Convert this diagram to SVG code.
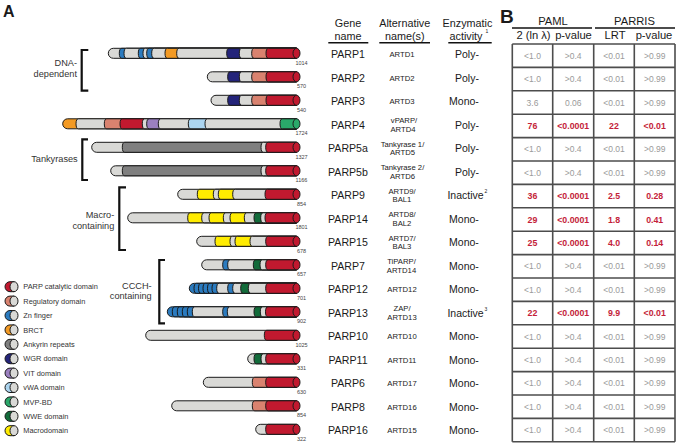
<svg xmlns="http://www.w3.org/2000/svg" width="679" height="445" viewBox="0 0 679 445">
<style>
text{font-family:"Liberation Sans",Arial,sans-serif;fill:#1a1a1a}
.bar path,.bar ellipse,.leg path,.leg ellipse{stroke:#1a1a1a;stroke-width:1}
.g{fill:#d9d9d6}.r{fill:#c1192f}.s{fill:#d9826f}.z{fill:#2b7bbf}.o{fill:#f39a24}.k{fill:#7f7f7f}.w{fill:#24247a}.v{fill:#9b80c0}.l{fill:#acd5f0}.m{fill:#2aa86a}.e{fill:#126b3a}.y{fill:#ffec00}
.len{font-size:5.5px;fill:#444;text-anchor:middle}
.leg text{font-size:7.4px;fill:#333}
.brk{fill:none;stroke:#111;stroke-width:2.2}
.bl{font-size:9.2px;fill:#333;text-anchor:end}
.hd{font-size:10.8px;text-anchor:middle}
.ul{stroke:#111;stroke-width:1.5}
.gn{font-size:10.6px;text-anchor:middle}
.an{font-size:7.7px;text-anchor:middle}
.ea{font-size:10.5px;text-anchor:middle}
.sup{font-size:5px}
.gc{font-size:8.5px;fill:#9a9a9a;text-anchor:middle}
.rc{font-size:8.8px;fill:#c41e3a;font-weight:bold;text-anchor:middle}
.bh{font-size:11.2px;text-anchor:middle}
.grid{fill:none;stroke:#4d4d4d;stroke-width:1.6}
</style>

<text x="3" y="17" style="font-size:16px;font-weight:bold">A</text>
<text x="500" y="23" style="font-size:19px;font-weight:bold">B</text>

<g id="connectors">
<path class="brk" d="M88.3,50H81.7V90.7H88.3"/>
<path class="brk" d="M88,139.3H82.3V180H88"/>
<path class="brk" d="M126,187.3H119.3V250H126"/>
<path class="brk" d="M165,260H159.3V323.3H165"/>
</g>
<g id="group-labels">
<text class="bl" x="77" y="66">DNA-</text>
<text class="bl" x="77" y="77">dependent</text>
<text class="bl" x="77.7" y="161.5">Tankyrases</text>
<text class="bl" x="114.3" y="218">Macro-</text>
<text class="bl" x="114.3" y="228.5">containing</text>
<text class="bl" x="151.7" y="288.5">CCCH-</text>
<text class="bl" x="151.7" y="299">containing</text>
</g>

<g id="PARP1" class="bar" transform="translate(0,53.3)">
<path class="g" d="M113.3,-5H296.5V5H113.3A5 5 0 0 1 113.3,-5Z"/>
<path class="z" d="M121.8,-5H296.5V5H121.8A2.5 5 0 0 1 121.8,-5Z"/>
<path class="g" d="M126.5,-5H296.5V5H126.5A2.5 5 0 0 1 126.5,-5Z"/>
<path class="z" d="M140.8,-5H296.5V5H140.8A2.5 5 0 0 1 140.8,-5Z"/>
<path class="g" d="M145.5,-5H296.5V5H145.5A2.5 5 0 0 1 145.5,-5Z"/>
<path class="z" d="M149.2,-5H296.5V5H149.2A2.5 5 0 0 1 149.2,-5Z"/>
<path class="g" d="M154.2,-5H296.5V5H154.2A2.5 5 0 0 1 154.2,-5Z"/>
<path class="o" d="M167.5,-5H296.5V5H167.5A2.5 5 0 0 1 167.5,-5Z"/>
<path class="g" d="M179.2,-5H296.5V5H179.2A2.5 5 0 0 1 179.2,-5Z"/>
<path class="w" d="M229.2,-5H296.5V5H229.2A2.5 5 0 0 1 229.2,-5Z"/>
<path class="g" d="M241.8,-5H296.5V5H241.8A2.5 5 0 0 1 241.8,-5Z"/>
<path class="s" d="M254.2,-5H296.5V5H254.2A2.5 5 0 0 1 254.2,-5Z"/>
<path class="r" d="M268.5,-5H296.5V5H268.5A2.5 5 0 0 1 268.5,-5Z"/>
<ellipse class="r" cx="296.5" cy="0" rx="3.5" ry="5"/>
<text class="len" x="301.5" y="11.5">1014</text>
</g>
<g id="PARP2" class="bar" transform="translate(0,76.8)">
<path class="g" d="M212.3,-5H296.5V5H212.3A5 5 0 0 1 212.3,-5Z"/>
<path class="w" d="M230.2,-5H296.5V5H230.2A2.5 5 0 0 1 230.2,-5Z"/>
<path class="g" d="M241.8,-5H296.5V5H241.8A2.5 5 0 0 1 241.8,-5Z"/>
<path class="s" d="M254.2,-5H296.5V5H254.2A2.5 5 0 0 1 254.2,-5Z"/>
<path class="r" d="M268.5,-5H296.5V5H268.5A2.5 5 0 0 1 268.5,-5Z"/>
<ellipse class="r" cx="296.5" cy="0" rx="3.5" ry="5"/>
<text class="len" x="301.5" y="11.5">570</text>
</g>
<g id="PARP3" class="bar" transform="translate(0,100.3)">
<path class="g" d="M216,-5H296.5V5H216A5 5 0 0 1 216,-5Z"/>
<path class="w" d="M230.2,-5H296.5V5H230.2A2.5 5 0 0 1 230.2,-5Z"/>
<path class="g" d="M241.8,-5H296.5V5H241.8A2.5 5 0 0 1 241.8,-5Z"/>
<path class="s" d="M254.2,-5H296.5V5H254.2A2.5 5 0 0 1 254.2,-5Z"/>
<path class="r" d="M268.5,-5H296.5V5H268.5A2.5 5 0 0 1 268.5,-5Z"/>
<ellipse class="r" cx="296.5" cy="0" rx="3.5" ry="5"/>
<text class="len" x="301.5" y="11.5">540</text>
</g>
<g id="PARP4" class="bar" transform="translate(0,123.8)">
<path class="o" d="M67.7,-5H296.5V5H67.7A5 5 0 0 1 67.7,-5Z"/>
<path class="g" d="M78.5,-5H296.5V5H78.5A2.5 5 0 0 1 78.5,-5Z"/>
<path class="s" d="M106.8,-5H296.5V5H106.8A2.5 5 0 0 1 106.8,-5Z"/>
<path class="r" d="M122.5,-5H296.5V5H122.5A2.5 5 0 0 1 122.5,-5Z"/>
<path class="g" d="M144.8,-5H296.5V5H144.8A2.5 5 0 0 1 144.8,-5Z"/>
<path class="v" d="M149.2,-5H296.5V5H149.2A2.5 5 0 0 1 149.2,-5Z"/>
<path class="g" d="M160.8,-5H296.5V5H160.8A2.5 5 0 0 1 160.8,-5Z"/>
<path class="l" d="M190.8,-5H296.5V5H190.8A2.5 5 0 0 1 190.8,-5Z"/>
<path class="g" d="M207.5,-5H296.5V5H207.5A2.5 5 0 0 1 207.5,-5Z"/>
<path class="m" d="M282.5,-5H296.5V5H282.5A2.5 5 0 0 1 282.5,-5Z"/>
<ellipse class="m" cx="296.5" cy="0" rx="3.5" ry="5"/>
<text class="len" x="301.5" y="11.5">1724</text>
</g>
<g id="PARP5a" class="bar" transform="translate(0,147.3)">
<path class="g" d="M96.7,-5H296.5V5H96.7A5 5 0 0 1 96.7,-5Z"/>
<path class="k" d="M124.8,-5H296.5V5H124.8A2.5 5 0 0 1 124.8,-5Z"/>
<path class="g" d="M263.5,-5H296.5V5H263.5A2.5 5 0 0 1 263.5,-5Z"/>
<path class="r" d="M268.2,-5H296.5V5H268.2A2.5 5 0 0 1 268.2,-5Z"/>
<ellipse class="r" cx="296.5" cy="0" rx="3.5" ry="5"/>
<text class="len" x="301.5" y="11.5">1327</text>
</g>
<g id="PARP5b" class="bar" transform="translate(0,170.8)">
<path class="g" d="M115.7,-5H296.5V5H115.7A5 5 0 0 1 115.7,-5Z"/>
<path class="k" d="M124.8,-5H296.5V5H124.8A2.5 5 0 0 1 124.8,-5Z"/>
<path class="g" d="M263.5,-5H296.5V5H263.5A2.5 5 0 0 1 263.5,-5Z"/>
<path class="r" d="M268.2,-5H296.5V5H268.2A2.5 5 0 0 1 268.2,-5Z"/>
<ellipse class="r" cx="296.5" cy="0" rx="3.5" ry="5"/>
<text class="len" x="301.5" y="11.5">1166</text>
</g>
<g id="PARP9" class="bar" transform="translate(0,194.3)">
<path class="g" d="M182.7,-5H296.5V5H182.7A5 5 0 0 1 182.7,-5Z"/>
<path class="y" d="M199.8,-5H296.5V5H199.8A2.5 5 0 0 1 199.8,-5Z"/>
<path class="g" d="M215.8,-5H296.5V5H215.8A2.5 5 0 0 1 215.8,-5Z"/>
<path class="y" d="M220.8,-5H296.5V5H220.8A2.5 5 0 0 1 220.8,-5Z"/>
<path class="g" d="M235.2,-5H296.5V5H235.2A2.5 5 0 0 1 235.2,-5Z"/>
<path class="r" d="M267.5,-5H296.5V5H267.5A2.5 5 0 0 1 267.5,-5Z"/>
<ellipse class="r" cx="296.5" cy="0" rx="3.5" ry="5"/>
<text class="len" x="301.5" y="11.5">854</text>
</g>
<g id="PARP14" class="bar" transform="translate(0,217.8)">
<path class="g" d="M132.7,-5H296.5V5H132.7A5 5 0 0 1 132.7,-5Z"/>
<path class="y" d="M190.2,-5H296.5V5H190.2A2.5 5 0 0 1 190.2,-5Z"/>
<path class="g" d="M204.2,-5H296.5V5H204.2A2.5 5 0 0 1 204.2,-5Z"/>
<path class="y" d="M211.5,-5H296.5V5H211.5A2.5 5 0 0 1 211.5,-5Z"/>
<path class="g" d="M225.8,-5H296.5V5H225.8A2.5 5 0 0 1 225.8,-5Z"/>
<path class="y" d="M232.5,-5H296.5V5H232.5A2.5 5 0 0 1 232.5,-5Z"/>
<path class="g" d="M246.8,-5H296.5V5H246.8A2.5 5 0 0 1 246.8,-5Z"/>
<path class="e" d="M256.5,-5H296.5V5H256.5A2.5 5 0 0 1 256.5,-5Z"/>
<path class="g" d="M263.2,-5H296.5V5H263.2A2.5 5 0 0 1 263.2,-5Z"/>
<path class="r" d="M267.5,-5H296.5V5H267.5A2.5 5 0 0 1 267.5,-5Z"/>
<ellipse class="r" cx="296.5" cy="0" rx="3.5" ry="5"/>
<text class="len" x="301.5" y="11.5">1801</text>
</g>
<g id="PARP15" class="bar" transform="translate(0,241.3)">
<path class="g" d="M201.7,-5H296.5V5H201.7A5 5 0 0 1 201.7,-5Z"/>
<path class="y" d="M217.5,-5H296.5V5H217.5A2.5 5 0 0 1 217.5,-5Z"/>
<path class="g" d="M232.5,-5H296.5V5H232.5A2.5 5 0 0 1 232.5,-5Z"/>
<path class="y" d="M237.5,-5H296.5V5H237.5A2.5 5 0 0 1 237.5,-5Z"/>
<path class="g" d="M252.5,-5H296.5V5H252.5A2.5 5 0 0 1 252.5,-5Z"/>
<path class="r" d="M268.2,-5H296.5V5H268.2A2.5 5 0 0 1 268.2,-5Z"/>
<ellipse class="r" cx="296.5" cy="0" rx="3.5" ry="5"/>
<text class="len" x="301.5" y="11.5">678</text>
</g>
<g id="PARP7" class="bar" transform="translate(0,264.8)">
<path class="g" d="M206.7,-5H296.5V5H206.7A5 5 0 0 1 206.7,-5Z"/>
<path class="z" d="M225.2,-5H296.5V5H225.2A2.5 5 0 0 1 225.2,-5Z"/>
<path class="g" d="M230.2,-5H296.5V5H230.2A2.5 5 0 0 1 230.2,-5Z"/>
<path class="e" d="M255.8,-5H296.5V5H255.8A2.5 5 0 0 1 255.8,-5Z"/>
<path class="g" d="M262.5,-5H296.5V5H262.5A2.5 5 0 0 1 262.5,-5Z"/>
<path class="r" d="M268.2,-5H296.5V5H268.2A2.5 5 0 0 1 268.2,-5Z"/>
<ellipse class="r" cx="296.5" cy="0" rx="3.5" ry="5"/>
<text class="len" x="301.5" y="11.5">657</text>
</g>
<g id="PARP12" class="bar" transform="translate(0,288.3)">
<path class="z" d="M194.3,-5H296.5V5H194.3A5 5 0 0 1 194.3,-5Z"/>
<path class="z" d="M196.5,-5H296.5V5H196.5A2.5 5 0 0 1 196.5,-5Z"/>
<path class="z" d="M201,-5H296.5V5H201A2.5 5 0 0 1 201,-5Z"/>
<path class="z" d="M205.5,-5H296.5V5H205.5A2.5 5 0 0 1 205.5,-5Z"/>
<path class="z" d="M210,-5H296.5V5H210A2.5 5 0 0 1 210,-5Z"/>
<path class="z" d="M214.5,-5H296.5V5H214.5A2.5 5 0 0 1 214.5,-5Z"/>
<path class="g" d="M219.2,-5H296.5V5H219.2A2.5 5 0 0 1 219.2,-5Z"/>
<path class="z" d="M230.2,-5H296.5V5H230.2A2.5 5 0 0 1 230.2,-5Z"/>
<path class="g" d="M235.2,-5H296.5V5H235.2A2.5 5 0 0 1 235.2,-5Z"/>
<path class="e" d="M243.2,-5H296.5V5H243.2A2.5 5 0 0 1 243.2,-5Z"/>
<path class="g" d="M250.8,-5H296.5V5H250.8A2.5 5 0 0 1 250.8,-5Z"/>
<path class="r" d="M268.2,-5H296.5V5H268.2A2.5 5 0 0 1 268.2,-5Z"/>
<ellipse class="r" cx="296.5" cy="0" rx="3.5" ry="5"/>
<text class="len" x="301.5" y="11.5">701</text>
</g>
<g id="PARP13" class="bar" transform="translate(0,311.8)">
<path class="z" d="M172.3,-5H296.5V5H172.3A5 5 0 0 1 172.3,-5Z"/>
<path class="z" d="M174.8,-5H296.5V5H174.8A2.5 5 0 0 1 174.8,-5Z"/>
<path class="z" d="M179.8,-5H296.5V5H179.8A2.5 5 0 0 1 179.8,-5Z"/>
<path class="z" d="M184.8,-5H296.5V5H184.8A2.5 5 0 0 1 184.8,-5Z"/>
<path class="z" d="M189.8,-5H296.5V5H189.8A2.5 5 0 0 1 189.8,-5Z"/>
<path class="g" d="M194.8,-5H296.5V5H194.8A2.5 5 0 0 1 194.8,-5Z"/>
<path class="z" d="M225.2,-5H296.5V5H225.2A2.5 5 0 0 1 225.2,-5Z"/>
<path class="g" d="M229.8,-5H296.5V5H229.8A2.5 5 0 0 1 229.8,-5Z"/>
<path class="e" d="M256.5,-5H296.5V5H256.5A2.5 5 0 0 1 256.5,-5Z"/>
<path class="g" d="M262.8,-5H296.5V5H262.8A2.5 5 0 0 1 262.8,-5Z"/>
<path class="r" d="M268,-5H296.5V5H268A2.5 5 0 0 1 268,-5Z"/>
<ellipse class="r" cx="296.5" cy="0" rx="3.5" ry="5"/>
<text class="len" x="301.5" y="11.5">902</text>
</g>
<g id="PARP10" class="bar" transform="translate(0,335.3)">
<path class="g" d="M150.7,-5H296.5V5H150.7A5 5 0 0 1 150.7,-5Z"/>
<path class="r" d="M266.8,-5H296.5V5H266.8A2.5 5 0 0 1 266.8,-5Z"/>
<ellipse class="r" cx="296.5" cy="0" rx="3.5" ry="5"/>
<text class="len" x="301.5" y="11.5">1025</text>
</g>
<g id="PARP11" class="bar" transform="translate(0,358.8)">
<path class="g" d="M252.7,-5H296.5V5H252.7A5 5 0 0 1 252.7,-5Z"/>
<path class="e" d="M256.5,-5H296.5V5H256.5A2.5 5 0 0 1 256.5,-5Z"/>
<path class="g" d="M263.5,-5H296.5V5H263.5A2.5 5 0 0 1 263.5,-5Z"/>
<path class="r" d="M268.2,-5H296.5V5H268.2A2.5 5 0 0 1 268.2,-5Z"/>
<ellipse class="r" cx="296.5" cy="0" rx="3.5" ry="5"/>
<text class="len" x="301.5" y="11.5">331</text>
</g>
<g id="PARP6" class="bar" transform="translate(0,382.3)">
<path class="g" d="M208.3,-5H296.5V5H208.3A5 5 0 0 1 208.3,-5Z"/>
<path class="s" d="M254.8,-5H296.5V5H254.8A2.5 5 0 0 1 254.8,-5Z"/>
<path class="r" d="M268.2,-5H296.5V5H268.2A2.5 5 0 0 1 268.2,-5Z"/>
<ellipse class="r" cx="296.5" cy="0" rx="3.5" ry="5"/>
<text class="len" x="301.5" y="11.5">630</text>
</g>
<g id="PARP8" class="bar" transform="translate(0,405.8)">
<path class="g" d="M176.7,-5H296.5V5H176.7A5 5 0 0 1 176.7,-5Z"/>
<path class="s" d="M254.8,-5H296.5V5H254.8A2.5 5 0 0 1 254.8,-5Z"/>
<path class="r" d="M268.2,-5H296.5V5H268.2A2.5 5 0 0 1 268.2,-5Z"/>
<ellipse class="r" cx="296.5" cy="0" rx="3.5" ry="5"/>
<text class="len" x="301.5" y="11.5">854</text>
</g>
<g id="PARP16" class="bar" transform="translate(0,429.3)">
<path class="g" d="M260.7,-5H296.5V5H260.7A5 5 0 0 1 260.7,-5Z"/>
<path class="r" d="M268.2,-5H296.5V5H268.2A2.5 5 0 0 1 268.2,-5Z"/>
<ellipse class="r" cx="296.5" cy="0" rx="3.5" ry="5"/>
<text class="len" x="301.5" y="11.5">322</text>
</g>

<g id="legend" class="leg">
<g transform="translate(0,286.7)"><path class="r" d="M10,-5H14V5H10A5 5 0 0 1 10,-5Z"/><ellipse class="g" cx="14" cy="0" rx="4" ry="5"/><text x="23.3" y="2.7">PARP catalytic domain</text></g>
<g transform="translate(0,301.1)"><path class="s" d="M10,-5H14V5H10A5 5 0 0 1 10,-5Z"/><ellipse class="g" cx="14" cy="0" rx="4" ry="5"/><text x="23.3" y="2.7">Regulatory domain</text></g>
<g transform="translate(0,315.5)"><path class="z" d="M10,-5H14V5H10A5 5 0 0 1 10,-5Z"/><ellipse class="g" cx="14" cy="0" rx="4" ry="5"/><text x="23.3" y="2.7">Zn finger</text></g>
<g transform="translate(0,329.9)"><path class="o" d="M10,-5H14V5H10A5 5 0 0 1 10,-5Z"/><ellipse class="g" cx="14" cy="0" rx="4" ry="5"/><text x="23.3" y="2.7">BRCT</text></g>
<g transform="translate(0,344.3)"><path class="k" d="M10,-5H14V5H10A5 5 0 0 1 10,-5Z"/><ellipse class="g" cx="14" cy="0" rx="4" ry="5"/><text x="23.3" y="2.7">Ankyrin repeats</text></g>
<g transform="translate(0,358.7)"><path class="w" d="M10,-5H14V5H10A5 5 0 0 1 10,-5Z"/><ellipse class="g" cx="14" cy="0" rx="4" ry="5"/><text x="23.3" y="2.7">WGR domain</text></g>
<g transform="translate(0,373.1)"><path class="v" d="M10,-5H14V5H10A5 5 0 0 1 10,-5Z"/><ellipse class="g" cx="14" cy="0" rx="4" ry="5"/><text x="23.3" y="2.7">VIT domain</text></g>
<g transform="translate(0,387.5)"><path class="l" d="M10,-5H14V5H10A5 5 0 0 1 10,-5Z"/><ellipse class="g" cx="14" cy="0" rx="4" ry="5"/><text x="23.3" y="2.7">vWA domain</text></g>
<g transform="translate(0,401.9)"><path class="m" d="M10,-5H14V5H10A5 5 0 0 1 10,-5Z"/><ellipse class="g" cx="14" cy="0" rx="4" ry="5"/><text x="23.3" y="2.7">MVP-BD</text></g>
<g transform="translate(0,416.3)"><path class="e" d="M10,-5H14V5H10A5 5 0 0 1 10,-5Z"/><ellipse class="g" cx="14" cy="0" rx="4" ry="5"/><text x="23.3" y="2.7">WWE domain</text></g>
<g transform="translate(0,430.7)"><path class="y" d="M10,-5H14V5H10A5 5 0 0 1 10,-5Z"/><ellipse class="g" cx="14" cy="0" rx="4" ry="5"/><text x="23.3" y="2.7">Macrodomain</text></g>
</g>

<g id="tableA-header">
<text class="hd" x="348" y="27">Gene</text>
<text class="hd" x="348" y="39.5">name</text>
<text class="hd" x="404.7" y="27">Alternative</text>
<text class="hd" x="404.7" y="39.5">name(s)</text>
<text class="hd" x="467.5" y="27">Enzymatic</text>
<text class="hd" x="466" y="39.5">activity</text>
<text class="sup" x="485.5" y="33">1</text>
<line class="ul" x1="328.3" y1="42.8" x2="368.3" y2="42.8"/>
<line class="ul" x1="379.3" y1="42.8" x2="430" y2="42.8"/>
<line class="ul" x1="448.3" y1="42.8" x2="491.7" y2="42.8"/>
</g>
<g id="tableA-genes">
<text class="gn" x="348" y="58.1">PARP1</text>
<text class="gn" x="348" y="81.6">PARP2</text>
<text class="gn" x="348" y="105.1">PARP3</text>
<text class="gn" x="348" y="128.6">PARP4</text>
<text class="gn" x="348" y="152.1">PARP5a</text>
<text class="gn" x="348" y="175.6">PARP5b</text>
<text class="gn" x="348" y="199.1">PARP9</text>
<text class="gn" x="348" y="222.6">PARP14</text>
<text class="gn" x="348" y="246.1">PARP15</text>
<text class="gn" x="348" y="269.6">PARP7</text>
<text class="gn" x="348" y="293.1">PARP12</text>
<text class="gn" x="348" y="316.6">PARP13</text>
<text class="gn" x="348" y="340.1">PARP10</text>
<text class="gn" x="348" y="363.6">PARP11</text>
<text class="gn" x="348" y="387.1">PARP6</text>
<text class="gn" x="348" y="410.6">PARP8</text>
<text class="gn" x="348" y="434.1">PARP16</text>
</g>
<g id="tableA-alt">
<text class="an" x="402" y="57.2">ARTD1</text>
<text class="an" x="402" y="80.7">ARTD2</text>
<text class="an" x="402" y="104.2">ARTD3</text>
<text class="an" x="404" y="123.4">vPARP/</text>
<text class="an" x="403" y="131.9">ARTD4</text>
<text class="an" x="402.5" y="146.9">Tankyrase 1/</text>
<text class="an" x="402.5" y="155.4">ARTD5</text>
<text class="an" x="402.5" y="170.4">Tankyrase 2/</text>
<text class="an" x="402.5" y="178.9">ARTD6</text>
<text class="an" x="402" y="193.9">ARTD9/</text>
<text class="an" x="402" y="202.4">BAL1</text>
<text class="an" x="402" y="217.4">ARTD8/</text>
<text class="an" x="402" y="225.9">BAL2</text>
<text class="an" x="402" y="240.9">ARTD7/</text>
<text class="an" x="402" y="249.4">BAL3</text>
<text class="an" x="401.5" y="264.4">TiPARP/</text>
<text class="an" x="401.5" y="272.9">ARTD14</text>
<text class="an" x="402" y="292.2">ARTD12</text>
<text class="an" x="402" y="311.4">ZAP/</text>
<text class="an" x="402" y="319.9">ARTD13</text>
<text class="an" x="402" y="339.2">ARTD10</text>
<text class="an" x="402" y="362.7">ARTD11</text>
<text class="an" x="402" y="386.2">ARTD17</text>
<text class="an" x="402" y="409.7">ARTD16</text>
<text class="an" x="402" y="433.2">ARTD15</text>
</g>
<g id="tableA-activity">
<text class="ea" x="467" y="58.1">Poly-</text>
<text class="ea" x="467" y="81.6">Poly-</text>
<text class="ea" x="464" y="105.1">Mono-</text>
<text class="ea" x="467" y="128.6">Poly-</text>
<text class="ea" x="467" y="152.1">Poly-</text>
<text class="ea" x="467" y="175.6">Poly-</text>
<text class="ea" x="465.5" y="199.1">Inactive</text>
<text class="sup" x="484.5" y="193.3">2</text>
<text class="ea" x="464" y="222.6">Mono-</text>
<text class="ea" x="464" y="246.1">Mono-</text>
<text class="ea" x="464" y="269.6">Mono-</text>
<text class="ea" x="464" y="293.1">Mono-</text>
<text class="ea" x="465.5" y="316.6">Inactive</text>
<text class="sup" x="484.5" y="310.8">3</text>
<text class="ea" x="464" y="340.1">Mono-</text>
<text class="ea" x="464" y="363.6">Mono-</text>
<text class="ea" x="464" y="387.1">Mono-</text>
<text class="ea" x="464" y="410.6">Mono-</text>
<text class="ea" x="464" y="434.1">Mono-</text>
</g>

<g id="tableB-header">
<text class="bh" x="553" y="24.5">PAML</text>
<text class="bh" x="634.5" y="24.5">PARRIS</text>
<line class="ul" x1="512" y1="28" x2="592" y2="28"/>
<line class="ul" x1="595" y1="28" x2="675" y2="28"/>
<text class="bh" x="533.5" y="38.5">2 (ln λ)</text>
<text class="bh" x="573.5" y="38.5">p-value</text>
<text class="bh" x="615" y="38.5">LRT</text>
<text class="bh" x="654" y="38.5">p-value</text>
</g>
<g id="tableB-grid">
<path class="grid" d="M512.3,44V441.8M552.7,44V441.8M593.7,44V441.8M634.3,44V441.8M675,44V441.8M512.3,44H675M512.3,67.4H675M512.3,90.8H675M512.3,114.2H675M512.3,137.6H675M512.3,161H675M512.3,184.4H675M512.3,207.8H675M512.3,231.2H675M512.3,254.6H675M512.3,278H675M512.3,301.4H675M512.3,324.8H675M512.3,348.2H675M512.3,371.6H675M512.3,395H675M512.3,418.4H675M512.3,441.8H675"/>
</g>
<g id="tableB-values">
<text class="gc" x="532.5" y="58.7">&lt;1.0</text><text class="gc" x="573.2" y="58.7">&gt;0.4</text><text class="gc" x="614" y="58.7">&lt;0.01</text><text class="gc" x="654.7" y="58.7">&gt;0.99</text>
<text class="gc" x="532.5" y="82.1">&lt;1.0</text><text class="gc" x="573.2" y="82.1">&gt;0.4</text><text class="gc" x="614" y="82.1">&lt;0.01</text><text class="gc" x="654.7" y="82.1">&gt;0.99</text>
<text class="gc" x="532.5" y="105.5">3.6</text><text class="gc" x="573.2" y="105.5">0.06</text><text class="gc" x="614" y="105.5">&lt;0.01</text><text class="gc" x="654.7" y="105.5">&gt;0.99</text>
<text class="rc" x="532.5" y="128.9">76</text><text class="rc" x="573.2" y="128.9">&lt;0.0001</text><text class="rc" x="614" y="128.9">22</text><text class="rc" x="654.7" y="128.9">&lt;0.01</text>
<text class="gc" x="532.5" y="152.3">&lt;1.0</text><text class="gc" x="573.2" y="152.3">&gt;0.4</text><text class="gc" x="614" y="152.3">&lt;0.01</text><text class="gc" x="654.7" y="152.3">&gt;0.99</text>
<text class="gc" x="532.5" y="175.7">&lt;1.0</text><text class="gc" x="573.2" y="175.7">&gt;0.4</text><text class="gc" x="614" y="175.7">&lt;0.01</text><text class="gc" x="654.7" y="175.7">&gt;0.99</text>
<text class="rc" x="532.5" y="199.1">36</text><text class="rc" x="573.2" y="199.1">&lt;0.0001</text><text class="rc" x="614" y="199.1">2.5</text><text class="rc" x="654.7" y="199.1">0.28</text>
<text class="rc" x="532.5" y="222.5">29</text><text class="rc" x="573.2" y="222.5">&lt;0.0001</text><text class="rc" x="614" y="222.5">1.8</text><text class="rc" x="654.7" y="222.5">0.41</text>
<text class="rc" x="532.5" y="245.9">25</text><text class="rc" x="573.2" y="245.9">&lt;0.0001</text><text class="rc" x="614" y="245.9">4.0</text><text class="rc" x="654.7" y="245.9">0.14</text>
<text class="gc" x="532.5" y="269.3">&lt;1.0</text><text class="gc" x="573.2" y="269.3">&gt;0.4</text><text class="gc" x="614" y="269.3">&lt;0.01</text><text class="gc" x="654.7" y="269.3">&gt;0.99</text>
<text class="gc" x="532.5" y="292.7">&lt;1.0</text><text class="gc" x="573.2" y="292.7">&gt;0.4</text><text class="gc" x="614" y="292.7">&lt;0.01</text><text class="gc" x="654.7" y="292.7">&gt;0.99</text>
<text class="rc" x="532.5" y="316.1">22</text><text class="rc" x="573.2" y="316.1">&lt;0.0001</text><text class="rc" x="614" y="316.1">9.9</text><text class="rc" x="654.7" y="316.1">&lt;0.01</text>
<text class="gc" x="532.5" y="339.5">&lt;1.0</text><text class="gc" x="573.2" y="339.5">&gt;0.4</text><text class="gc" x="614" y="339.5">&lt;0.01</text><text class="gc" x="654.7" y="339.5">&gt;0.99</text>
<text class="gc" x="532.5" y="362.9">&lt;1.0</text><text class="gc" x="573.2" y="362.9">&gt;0.4</text><text class="gc" x="614" y="362.9">&lt;0.01</text><text class="gc" x="654.7" y="362.9">&gt;0.99</text>
<text class="gc" x="532.5" y="386.3">&lt;1.0</text><text class="gc" x="573.2" y="386.3">&gt;0.4</text><text class="gc" x="614" y="386.3">&lt;0.01</text><text class="gc" x="654.7" y="386.3">&gt;0.99</text>
<text class="gc" x="532.5" y="409.7">&lt;1.0</text><text class="gc" x="573.2" y="409.7">&gt;0.4</text><text class="gc" x="614" y="409.7">&lt;0.01</text><text class="gc" x="654.7" y="409.7">&gt;0.99</text>
<text class="gc" x="532.5" y="433.1">&lt;1.0</text><text class="gc" x="573.2" y="433.1">&gt;0.4</text><text class="gc" x="614" y="433.1">&lt;0.01</text><text class="gc" x="654.7" y="433.1">&gt;0.99</text>
</g>
</svg>
